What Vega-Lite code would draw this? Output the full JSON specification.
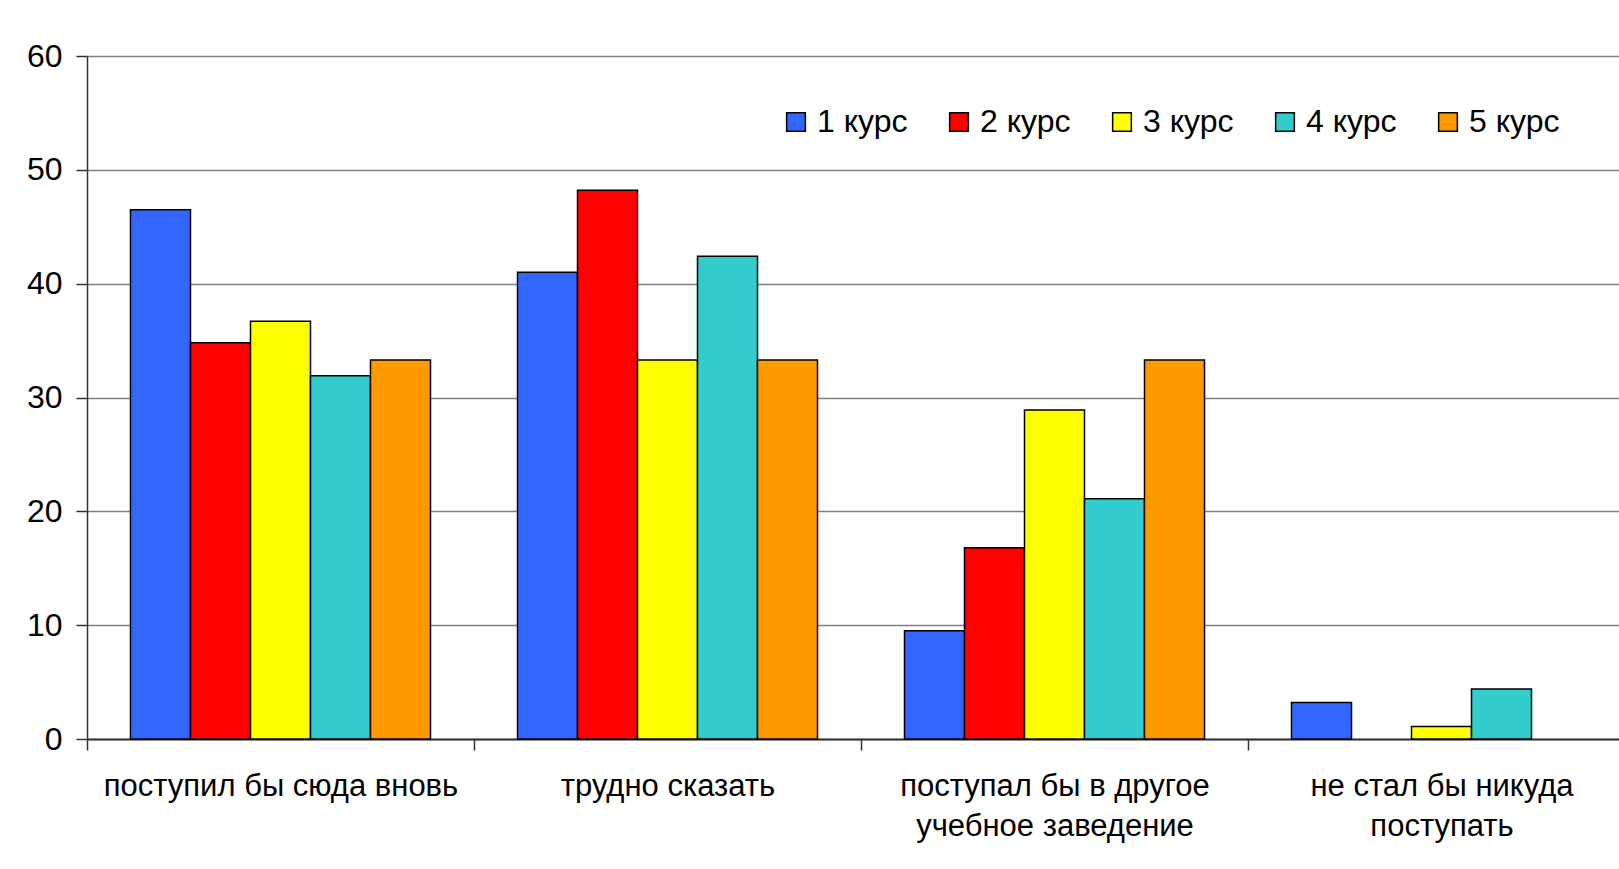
{
  "$schema": "https://vega.github.io/schema/vega-lite/v6.json",
  "width": 1548,
  "height": 683,
  "autosize": {"type": "none"},
  "padding": {"left": 87, "top": 56, "right": 0, "bottom": 130},
  "background": "white",
  "config": {
    "font": "Liberation Sans",
    "view": {"stroke": null}
  },
  "data": {
    "values": [
      {"answer": "поступил бы сюда вновь", "course": "1 курс", "value": 46.5},
      {"answer": "поступил бы сюда вновь", "course": "2 курс", "value": 34.8},
      {"answer": "поступил бы сюда вновь", "course": "3 курс", "value": 36.7},
      {"answer": "поступил бы сюда вновь", "course": "4 курс", "value": 31.9},
      {"answer": "поступил бы сюда вновь", "course": "5 курс", "value": 33.3},
      {"answer": "трудно сказать", "course": "1 курс", "value": 41.0},
      {"answer": "трудно сказать", "course": "2 курс", "value": 48.2},
      {"answer": "трудно сказать", "course": "3 курс", "value": 33.3},
      {"answer": "трудно сказать", "course": "4 курс", "value": 42.4},
      {"answer": "трудно сказать", "course": "5 курс", "value": 33.3},
      {"answer": "поступал бы в другое учебное заведение", "course": "1 курс", "value": 9.5},
      {"answer": "поступал бы в другое учебное заведение", "course": "2 курс", "value": 16.8},
      {"answer": "поступал бы в другое учебное заведение", "course": "3 курс", "value": 28.9},
      {"answer": "поступал бы в другое учебное заведение", "course": "4 курс", "value": 21.1},
      {"answer": "поступал бы в другое учебное заведение", "course": "5 курс", "value": 33.3},
      {"answer": "не стал бы никуда поступать", "course": "1 курс", "value": 3.2},
      {"answer": "не стал бы никуда поступать", "course": "3 курс", "value": 1.1},
      {"answer": "не стал бы никуда поступать", "course": "4 курс", "value": 4.4}
    ]
  },
  "mark": {"type": "bar", "stroke": "black", "strokeWidth": 1.5},
  "encoding": {
    "x": {
      "field": "answer",
      "type": "nominal",
      "sort": null,
      "scale": {"paddingInner": 0, "paddingOuter": 0},
      "axis": {
        "title": null,
        "labelAngle": 0,
        "labelFontSize": 31,
        "labelColor": "black",
        "labelLimit": 0,
        "labelPadding": 21,
        "labelLineHeight": 40,
        "labelBaseline": "top",
        "tickBand": "extent",
        "tickSize": 11,
        "tickColor": "#333333",
        "tickWidth": 1.5,
        "domainColor": "#333333",
        "domainWidth": 2,
        "labelExpr": "datum.value == 'поступал бы в другое учебное заведение' ? ['поступал бы в другое', 'учебное заведение'] : datum.value == 'не стал бы никуда поступать' ? ['не стал бы никуда', 'поступать'] : datum.value",
        "grid": false
      }
    },
    "xOffset": {
      "field": "course",
      "type": "nominal",
      "scale": {"domain": ["1 курс", "2 курс", "3 курс", "4 курс", "5 курс"], "paddingInner": 0, "paddingOuter": 0.725}
    },
    "y": {
      "field": "value",
      "type": "quantitative",
      "scale": {"domain": [0, 60], "nice": false},
      "axis": {
        "title": null,
        "values": [0, 10, 20, 30, 40, 50, 60],
        "labelFontSize": 32,
        "labelColor": "black",
        "labelPadding": 14,
        "tickSize": 11,
        "tickColor": "#333333",
        "tickWidth": 1.5,
        "domainColor": "#333333",
        "domainWidth": 1.5,
        "grid": true,
        "gridColor": "#808080",
        "gridWidth": 1.5
      }
    },
    "color": {
      "field": "course",
      "type": "nominal",
      "scale": {
        "domain": ["1 курс", "2 курс", "3 курс", "4 курс", "5 курс"],
        "range": ["#3366FF", "#FF0000", "#FFFF00", "#33CCCC", "#FF9900"]
      },
      "legend": {
        "title": null,
        "orient": "none",
        "direction": "horizontal",
        "legendX": 693,
        "legendY": 50,
        "symbolType": "square",
        "symbolSize": 350,
        "symbolStrokeColor": "black",
        "symbolStrokeWidth": 1.5,
        "symbolOpacity": 1,
        "labelFontSize": 32,
        "labelColor": "black",
        "labelOffset": 5,
        "columnPadding": 35,
        "labelLimit": 300
      }
    }
  }
}
